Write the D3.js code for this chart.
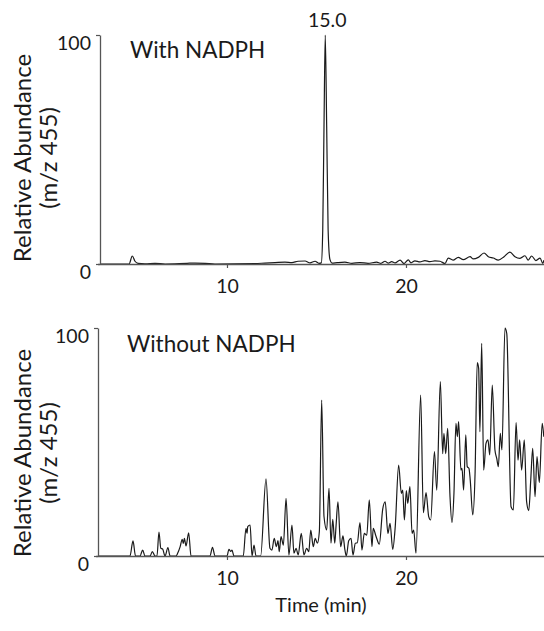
<!DOCTYPE html>
<html>
<head>
<meta charset="utf-8">
<script src="https://cdn.jsdelivr.net/npm/d3@7"></script>
<style>
  body { margin: 0; background: #fff; }
  text { font-family: Lato, "Open Sans", sans-serif; fill: #1a1a1a; }
</style>
</head>
<body>
<svg id="canvas"></svg>
<script>
const width = 544;
const height = 631;

// time axis ticks + y ticks
const xTicks = [10, 20];
const yTicks = [0, 100];
const peakLabel = "15.0";

// with NADPH (top trace)
const withTime = [2.9, 4.53, 4.71, 4.86, 5.03, 5.42, 5.98, 6.54, 7.77, 8.21, 8.77, 9.33, 11.56, 12.12, 12.68, 13.24,
  13.63, 13.97, 14.36, 14.64, 14.92, 15.14, 15.27, 15.35, 15.42, 15.49, 15.57, 15.65, 15.75, 15.87, 16.15, 16.59,
  16.98, 17.43, 17.88, 18.36, 18.6, 18.83, 19.0, 19.2, 19.39, 19.67, 19.89, 20.13, 20.28, 20.5, 20.78, 21.06,
  21.34, 21.62, 21.9, 22.18, 22.36, 22.63, 22.92, 23.2, 23.58, 23.76, 24.04, 24.36, 24.6, 24.88, 25.16, 25.48,
  25.81, 26.09, 26.37, 26.65, 26.83, 27.02, 27.26, 27.49, 27.64, 27.71];
const withAbund = [0, 0, 3.5, 1.2, 0.3, 0.1, 0.3, 0, 0.3, 0.4, 0.3, 0, 0.2, 0.4, 0.6, 0.8,
  0.6, 1.2, 1.3, 0.5, 1.2, 0.3, 0.5, 15, 60, 100, 60, 15, 2, 0.4, 0.6, 0.8,
  0.3, 0.6, 0.3, 0.8, 0.3, 1.2, 0.4, 1, 0.5, 1.7, 0.2, 1.8, 0.5, 1.4, 0.9, 1.5,
  1.0, 1.4, 1.2, 0.2, 2.6, 1.7, 2.9, 1.9, 3.2, 2.2, 2.9, 4.8, 3.2, 2.6, 1.7, 3.2,
  5.2, 3.2, 2.5, 3.6, 1.7, 3.5, 1.5, 2.6, 0.3, 1.7];

// without NADPH (bottom trace)
const withoutTime = [2.85, 4.58, 4.75, 4.89, 5.14, 5.29, 5.42, 5.70, 5.83, 5.98, 6.09, 6.20, 6.30, 6.41, 6.54, 6.70,
  6.82, 7.15, 7.25, 7.38, 7.50, 7.56, 7.62, 7.71, 7.86, 7.99, 9.05, 9.19, 9.33, 10.0, 10.11, 10.21,
  10.28, 10.39, 10.91, 11.06, 11.12, 11.16, 11.29, 11.40, 11.51, 11.62, 11.88, 12.18, 12.40, 12.51, 12.64, 12.76,
  12.85, 12.92, 13.02, 13.15, 13.30, 13.46, 13.63, 13.74, 13.86, 13.98, 14.15, 14.30, 14.45, 14.57, 14.68, 14.82,
  14.93, 15.05, 15.16, 15.29, 15.42, 15.57, 15.70, 15.81, 15.91, 16.02, 16.09, 16.20, 16.35, 16.48, 16.59, 16.67,
  16.80, 16.93, 17.04, 17.17, 17.28, 17.43, 17.54, 17.67, 17.81, 17.95, 18.10, 18.17, 18.32, 18.51, 18.70, 18.84,
  18.99, 19.11, 19.26, 19.40, 19.59, 19.74, 19.82, 19.91, 20.02, 20.10, 20.22, 20.34, 20.43, 20.56, 20.82, 20.97,
  21.12, 21.27, 21.38, 21.59, 21.72, 21.92, 22.05, 22.12, 22.22, 22.33, 22.46, 22.57, 22.68, 22.79, 22.87, 22.94,
  23.07, 23.13, 23.22, 23.34, 23.42, 23.52, 23.59, 23.73, 23.86, 23.98, 24.06, 24.13, 24.23, 24.34, 24.47, 24.58,
  24.68, 24.82, 24.97, 25.07, 25.16, 25.27, 25.36, 25.53, 25.63, 25.87, 26.00, 26.15, 26.26, 26.35, 26.46, 26.61,
  26.74, 26.86, 26.97, 27.08, 27.21, 27.32, 27.45, 27.61, 27.70];
const withoutAbund = [0, 0, 6.6, 0, 0, 2.6, 0, 0, 1.9, 0, 0, 10.5, 3.5, 3, 0, 3.7,
  0, 0, 1.3, 4, 7.3, 5.5, 7.7, 4.4, 10.2, 0, 0, 3.8, 0, 0, 2.9, 2,
  2.6, 0, 0, 12.1, 10, 12.9, 13.6, 0, 4.8, 0, 0, 33.8, 3.4, 2.6, 7.7, 4.1,
  6.7, 1.9, 8.5, 4.8, 25.3, 0.4, 13.6, 1.2, 3.4, 0.5, 9.9, 0.5, 3.4, 1.9, 11.4, 4.1,
  7.7, 5.6, 10.7, 68.4, 17.3, 11.4, 29.7, 5.6, 16.1, 5.6, 12.9, 23.8, 4.1, 8.8, 2.6, 0,
  6.7, 7.7, 0.4, 5.6, 5.8, 14.6, 2.6, 9.9, 9.1, 24.6, 4.1, 12.1, 8.8, 5.2, 20.6, 23.8,
  9.9, 14.3, 2.9, 12.9, 39.9, 27.5, 28.9, 15.8, 28.7, 23.1, 30.4, 9.9, 11.4, 1.2, 70.6, 19,
  27.8, 17.3, 15.8, 45.8, 28.9, 76.5, 44.9, 53.8, 44.9, 56, 26, 14.6, 27.5, 58.2, 52.3, 58.9,
  37.7, 38.4, 28.9, 53.1, 39.2, 38.4, 33.3, 18, 36.3, 84.8, 82.3, 54.5, 93.3, 37.7, 49.4, 50.9,
  44.3, 75, 46.5, 42.8, 39.2, 53.8, 46.5, 100, 97.6, 21.6, 20.2, 58.5, 42, 50.9, 37.7, 50.9,
  23.8, 19.9, 33.3, 47.2, 26, 43.6, 32.2, 58.2, 52.3];

const svg = d3.select("#canvas").attr("width", width).attr("height", height);

// both panels share the time scale
const xScale = d3.scaleLinear().domain([2.85, 27.8]).range([99, 545.6]);
const plotRight = 544;

const panels = [
  { time: withTime, abund: withAbund, title: "With NADPH", top: 35, base: 264, axisX: 100, titleX: 130, titleY: 58, labelY: 158 },
  { time: withoutTime, abund: withoutAbund, title: "Without NADPH", top: 328, base: 556, axisX: 98, titleX: 127, titleY: 352, labelY: 453 }
];

panels.forEach((p, k) => {
  const yScale = d3.scaleLinear().domain([0, 100]).range([p.base, p.top]);
  const g = svg.append("g");

  g.append("clipPath").attr("id", "clip" + k)
    .append("rect").attr("x", p.axisX).attr("y", 0).attr("width", plotRight - p.axisX).attr("height", height);

  // trace
  const pts = p.time.map((t, i) => [t, p.abund[i]]);
  const line = d3.line()
    .x(d => xScale(d[0]))
    .y(d => yScale(d[1]))
    .curve(d3.curveMonotoneX);
  g.append("path")
    .datum(pts)
    .attr("clip-path", `url(#clip${k})`)
    .attr("fill", "none")
    .attr("stroke", "#1a1a1a")
    .attr("stroke-width", 1.2)
    .attr("d", line);

  // x axis
  const xAx = g.append("g")
    .attr("transform", `translate(0,${p.base})`)
    .call(d3.axisBottom(xScale).tickValues(xTicks).tickSize(4).tickSizeOuter(0));
  xAx.select(".domain").attr("d", `M${p.axisX - 2},0.5H${plotRight}`);
  // y axis
  const yAx = g.append("g")
    .attr("transform", `translate(${p.axisX},0)`)
    .call(d3.axisLeft(yScale).tickValues(yTicks).tickSize(4).tickSizeOuter(0));

  [xAx, yAx].forEach(ax => {
    ax.select(".domain").attr("stroke", "#555").attr("stroke-width", 1.3);
    ax.selectAll(".tick line").attr("stroke", "#555").attr("stroke-width", 1.2);
    ax.selectAll(".tick text")
      .style("font-family", "Lato, sans-serif")
      .attr("font-size", 19.5)
      .attr("fill", "#1a1a1a");
  });
  xAx.selectAll(".tick text").attr("y", 15);
  yAx.selectAll(".tick text").attr("x", -9).attr("dy", "0.74em");

  // panel title
  g.append("text")
    .attr("x", p.titleX)
    .attr("y", p.titleY)
    .attr("font-size", 22.5)
    .text(p.title);

  // y labels
  g.append("text")
    .attr("transform", `translate(31,${p.labelY}) rotate(-90)`)
    .attr("text-anchor", "middle")
    .attr("font-size", 24)
    .text("Relative Abundance");
  g.append("text")
    .attr("transform", `translate(57,${p.labelY}) rotate(-90)`)
    .attr("text-anchor", "middle")
    .attr("font-size", 24)
    .text("(m/z 455)");
});

// label over the main peak of the top trace
const iPeak = withAbund.indexOf(d3.max(withAbund));
svg.append("text")
  .attr("x", xScale(withTime[iPeak]) + 2)
  .attr("y", 27)
  .attr("text-anchor", "middle")
  .attr("font-size", 19.5)
  .text(peakLabel);

// x axis title
svg.append("text")
  .attr("x", 321)
  .attr("y", 612)
  .attr("text-anchor", "middle")
  .attr("font-size", 20)
  .text("Time (min)");
</script>
</body>
</html>
